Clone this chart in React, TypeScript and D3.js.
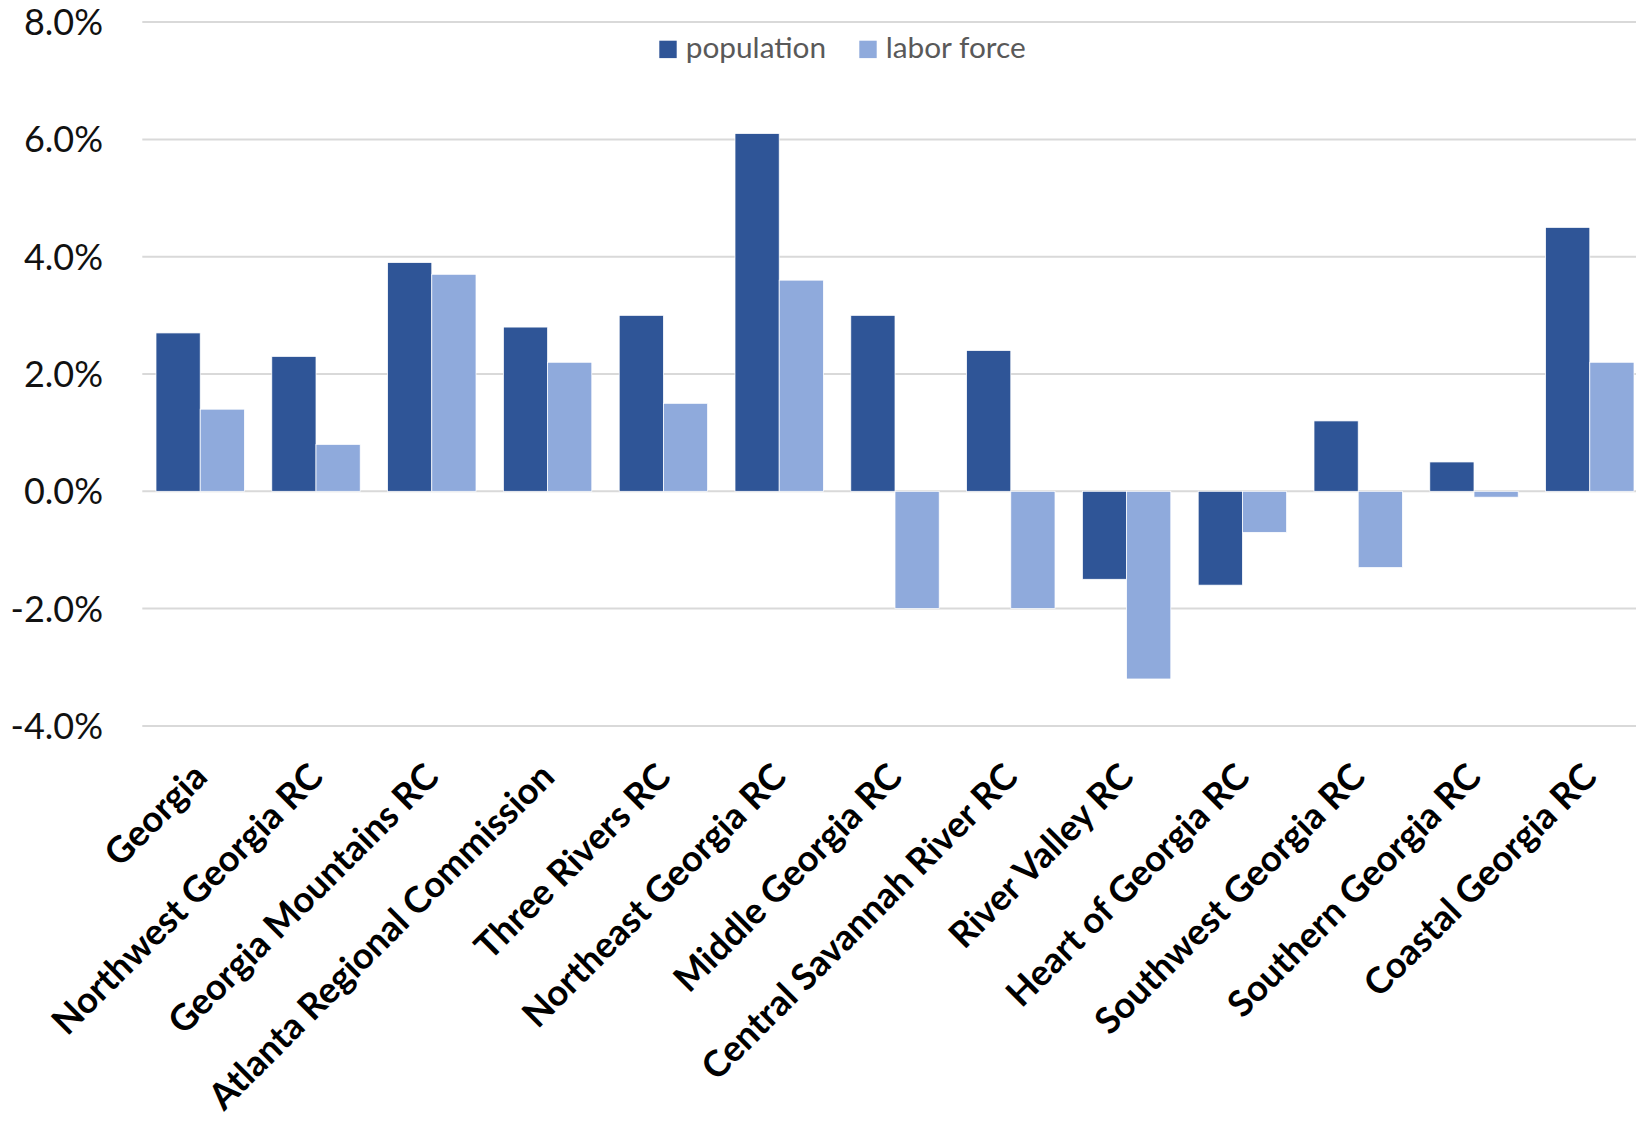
import React from "react";
import { scaleBand, scaleLinear } from "d3";

const categories = [
  "Georgia",
  "Northwest Georgia RC",
  "Georgia Mountains RC",
  "Atlanta Regional Commission",
  "Three Rivers RC",
  "Northeast Georgia RC",
  "Middle Georgia RC",
  "Central Savannah River RC",
  "River Valley RC",
  "Heart of Georgia RC",
  "Southwest Georgia RC",
  "Southern Georgia RC",
  "Coastal Georgia RC",
];

const population = [2.7, 2.3, 3.9, 2.8, 3.0, 6.1, 3.0, 2.4, -1.5, -1.6, 1.2, 0.5, 4.5];
const laborForce = [1.4, 0.8, 3.7, 2.2, 1.5, 3.6, -2.0, -2.0, -3.2, -0.7, -1.3, -0.1, 2.2];

const seriesNames = ["population", "labor force"];
const seriesColors = ["#2F5597", "#8FAADC"];
const yTicks = [-4, -2, 0, 2, 4, 6, 8];

const App = () => {
  const width = 1636;
  const height = 1125;
  const plotLeft = 142.3;
  const step = 115.8;

  const xScale = scaleBand()
    .domain(categories)
    .range([plotLeft, plotLeft + step * categories.length])
    .paddingInner(0.2366)
    .paddingOuter(0.1183);

  const xInner = scaleBand().domain(seriesNames).range([0, xScale.bandwidth()]);

  const yScale = scaleLinear().domain([-4, 8]).range([725.9, 22.1]);

  const series = [population, laborForce];
  const font = "Lato, Calibri, sans-serif";

  return (
    <svg
      width={width}
      height={height}
      style={{ position: "absolute", left: 0, top: 0, background: "#fff" }}
    >
      {/* gridlines */}
      {yTicks.map((t) => (
        <line
          key={t}
          x1={plotLeft}
          x2={width}
          y1={yScale(t)}
          y2={yScale(t)}
          stroke="#D9D9D9"
          strokeWidth={2}
        />
      ))}
      {yTicks.map((t) => (
        <text
          key={t}
          x={103}
          y={yScale(t)}
          dy="0.36em"
          textAnchor="end"
          fontFamily={font}
          fontSize={36}
          fill="#111"
        >
          {`${t.toFixed(1)}%`}
        </text>
      ))}

      {/* bars */}
      {series.map((values, si) =>
        values.map((v, i) => {
          const x = xScale(categories[i]) + xInner(seriesNames[si]);
          const y0 = yScale(0);
          const y1 = yScale(v);
          return (
            <rect
              key={`${si}-${i}`}
              x={x}
              y={Math.min(y0, y1)}
              width={xInner.bandwidth()}
              height={Math.abs(y1 - y0)}
              fill={seriesColors[si]}
              stroke="#fff"
              strokeWidth={0.75}
            />
          );
        })
      )}

      {/* category labels */}
      {categories.map((c) => {
        const cx = xScale(c) + xScale.bandwidth() / 2;
        const cy = 770;
        return (
          <text
            key={c}
            x={cx}
            y={cy}
            dy="0.35em"
            textAnchor="end"
            transform={`rotate(-45, ${cx}, ${cy})`}
            fontFamily={font}
            fontWeight="bold"
            fontSize={36.3}
            fill="#000"
          >
            {c}
          </text>
        );
      })}

      {/* legend */}
      <g fontFamily={font} fontSize={29.8} fill="#595959">
        <rect x={659.3} y={40.7} width={17.4} height={17.4} fill={seriesColors[0]} />
        <text x={685.7} y={58.3}>{seriesNames[0]}</text>
        <rect x={859.3} y={40.7} width={17.4} height={17.4} fill={seriesColors[1]} />
        <text x={885.7} y={58.3}>{seriesNames[1]}</text>
      </g>
    </svg>
  );
};

export default App;
